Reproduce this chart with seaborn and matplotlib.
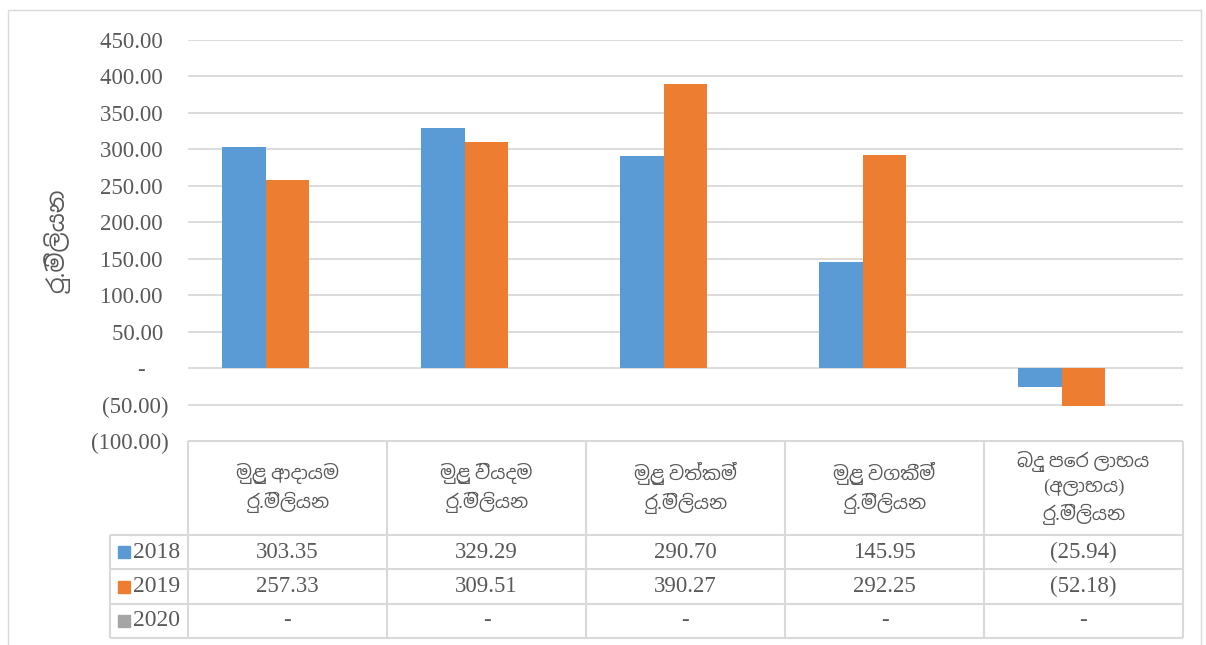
import matplotlib
matplotlib.use("Agg")
import matplotlib.pyplot as plt
import seaborn as sns
import pandas as pd
from matplotlib import font_manager, ft2font
from matplotlib.ticker import FuncFormatter
from matplotlib.patches import Rectangle

categories = [
    "මුළු ආදායම\nරු.මිලියන",
    "මුළු වියදම\nරු.මිලියන",
    "මුළු වත්කම්\nරු.මිලියන",
    "මුළු වගකීම්\nරු.මිලියන",
    "බදු පෙර ලාභය\n(අලාභය)\nරු.මිලියන",
]
years = ["2018", "2019", "2020"]
values_2018 = [303.35, 329.29, 290.70, 145.95, -25.94]
values_2019 = [257.33, 309.51, 390.27, 292.25, -52.18]
values_2020 = [None, None, None, None, None]
y_ticks = [-100, -50, 0, 50, 100, 150, 200, 250, 300, 350, 400, 450]
y_label = "රු.මිලියන"

colors = {"2018": "#5B9BD5", "2019": "#ED7D31", "2020": "#A5A5A5"}
text_col = "#595959"
line_col = "#D9D9D9"


def find_sinhala_font():
    for f in font_manager.fontManager.ttflist:
        if "sinhala" in f.name.lower():
            return f.name
    for f in font_manager.fontManager.ttflist:
        try:
            if 0x0DB8 in ft2font.FT2Font(f.fname).get_charmap():
                return f.name
        except Exception:
            pass
    return None


sinhala = find_sinhala_font()
fonts = ["Liberation Serif"] + ([sinhala] if sinhala else []) + ["DejaVu Sans"]

sns.set_style("white")
plt.rcParams["font.family"] = fonts
plt.rcParams["axes.unicode_minus"] = False

series = {"2018": values_2018, "2019": values_2019, "2020": values_2020}
df = pd.concat(
    [pd.DataFrame({"category": categories, "year": y, "value": v}) for y, v in series.items()],
    ignore_index=True,
)
df["value"] = pd.to_numeric(df["value"])
df_bars = df.dropna()

W, H = 1206, 645
fig = plt.figure(figsize=(W / 100, H / 100), dpi=100)
ax = fig.add_axes([188 / W, 1 - 441 / H, 995 / W, 401 / H])
tab = fig.add_axes([188 / W, 1 - 638 / H, 995 / W, 197 / H])

sns.barplot(data=df_bars, x="category", y="value", hue="year",
            order=categories, hue_order=years, palette=colors, saturation=1,
            width=0.663, errorbar=None, legend=False, linewidth=0, ax=ax)


def acct(v, pos=None):
    if abs(v) < 1e-9:
        return "-    "
    if v < 0:
        return f"({abs(v):.2f})"
    return f"{v:.2f} "


num_size = 16.5
ax.set_xlim(-0.5, 4.5)
ax.set_ylim(-100, 450)
ax.set_yticks(y_ticks)
ax.yaxis.set_major_formatter(FuncFormatter(acct))
ax.tick_params(axis="y", length=0, pad=14, labelsize=num_size, labelcolor=text_col)
ax.tick_params(axis="x", bottom=False, labelbottom=False)
ax.set_xlabel("")
ax.set_ylabel(y_label, fontsize=17, color=text_col)
ax.yaxis.set_label_coords(-0.1186, 0.5)
ax.grid(axis="y", color=line_col, lw=1.3)
ax.set_axisbelow(True)
sns.despine(ax=ax, left=True, bottom=True)

# data table under the plot
tab.set_xlim(-0.5, 4.5)
tab.set_ylim(0, 197)
tab.axis("off")
head_bottom = 103
row_h = head_bottom / 3
label_left = -0.5 - 78 / 199
kw = dict(color=line_col, lw=1.5, clip_on=False, solid_capstyle="butt")
tab.plot([-0.5, 4.5], [197, 197], **kw)
for yb in [0, row_h, 2 * row_h, head_bottom]:
    tab.plot([label_left, 4.5], [yb, yb], **kw)
tab.plot([label_left, label_left], [0, head_bottom], **kw)
for k in range(6):
    tab.plot([k - 0.5, k - 0.5], [0, 197], **kw)

for i, c in enumerate(categories):
    tab.text(i, (197 + head_bottom) / 2, c, ha="center", va="center",
             fontsize=13.5, color=text_col, linespacing=1.5)


def fmt(v):
    if v is None:
        return "-"
    if v < 0:
        return f"({abs(v):.2f})"
    return f"{v:.2f}"


for r, yr in enumerate(years):
    yc = head_bottom - row_h * (r + 0.5)
    tab.plot([label_left + 0.07], [yc], marker="s", ms=8, color=colors[yr],
             clip_on=False, lw=0)
    tab.text(label_left + 0.118, yc, yr, ha="left", va="center",
             fontsize=17, color=text_col, clip_on=False)
    for i, v in enumerate(series[yr]):
        tab.text(i, yc, fmt(v), ha="center", va="center",
                 fontsize=num_size, color=text_col)

fig.add_artist(Rectangle((8 / W, -0.05), (1201 - 8) / W, 1.05 - 10 / H,
                         transform=fig.transFigure, fill=False,
                         edgecolor=line_col, lw=1))

fig.savefig("out.png", dpi=100)
